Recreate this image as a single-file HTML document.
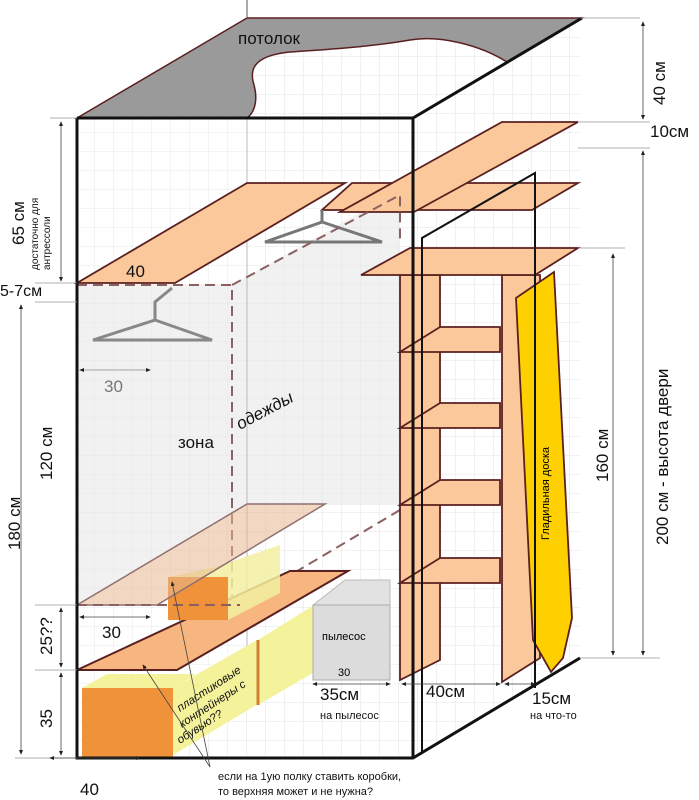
<!DOCTYPE html>
<html><head><meta charset="utf-8"><style>
html,body{margin:0;padding:0;background:#fff}
svg{display:block}
text{font-family:"Liberation Sans",sans-serif}
</style></head><body>
<svg width="699" height="800" viewBox="0 0 699 800" xmlns="http://www.w3.org/2000/svg">
<defs>
<pattern id="g" width="19" height="19" patternUnits="userSpaceOnUse">
<path d="M19 0V19M0 19H19" stroke="#dcdcdc" stroke-width="0.8" fill="none"/>
</pattern>
<marker id="a" markerWidth="6" markerHeight="6" refX="5" refY="3" orient="auto-start-reverse"><path d="M0,0.5L6,3L0,5.5z" fill="#222"/></marker>
</defs>
<!-- grids -->
<rect x="247" y="18" width="333" height="640" fill="url(#g)"/>
<polygon points="77,118 247,18 247,658 77,758" fill="url(#g)" opacity="0.8"/>
<polygon points="77,758 247,658 580,658 413,758" fill="url(#g)"/>
<!-- clothes zone fill -->
<polygon points="77,285 232,285 400,190 400,505 247,505 77,605" fill="#e8e8e8" opacity="0.6"/>
<!-- ceiling -->
<path d="M77,118 L247,18 L582,18 L507,62 C480,45 440,35 410,40 C370,47 320,50 290,52 C250,56 250,72 254,85 C258,100 255,112 247,118 Z" fill="#9a9a9a" stroke="#5a2020" stroke-width="1.5"/>
<line x1="247" y1="118" x2="247" y2="658" stroke="#bbb" stroke-width="1"/>
<line x1="247" y1="0" x2="247" y2="18" stroke="#555"/>
<!-- mezzanine shelves -->
<polygon points="77,283 175,283 345,183 247,183" fill="#fac89a" stroke="#5a2020" stroke-width="1.8"/>
<polygon points="352,183 578,183 532,210 322,210" fill="#fac89a" stroke="#5a2020" stroke-width="1.8"/>
<polygon points="502,122 578,122 414,212 340,212" fill="#fac89a" stroke="#5a2020" stroke-width="1.8"/>
<!-- hangers -->
<g stroke="#888" stroke-width="3" fill="none">
<path d="M172,288 L155,302 L155,320 L93,340 L212,340 L155,320"/>
<path d="M322,210 L322,222 L265,242 L382,242 L322,222" stroke="#777"/>
</g>
<!-- dashed zone -->
<g stroke="#8a6060" stroke-width="2" stroke-dasharray="10,6" fill="none">
<path d="M77,285 L232,285 L232,605 M232,285 L400,195 L400,240 M240,605 L400,510"/>
</g>
<!-- containers -->
<polygon points="82,688 173,688 196,674 107,674" fill="#f4f29a"/>
<polygon points="173,688 257,640 258,704 173,755" fill="#f4f29a"/>
<polygon points="258,640 335,592 335,660 258,705" fill="#f4f29a"/>
<rect x="82" y="688" width="91" height="70" fill="#f0923a"/>
<line x1="258" y1="640" x2="258" y2="705" stroke="#d08030" stroke-width="3"/>
<!-- shoe shelf -->
<polygon points="77,670 177,670 348,571 290,571" fill="#f7b680" stroke="#5a2020" stroke-width="2"/>
<!-- small box -->
<rect x="168" y="577" width="60" height="43" fill="#f0923a"/>
<polygon points="168,577 212,568 280,545 280,593 228,620 228,577" fill="#f2f0a0" opacity="0.85"/>
<!-- translucent shelf -->
<polygon points="77,605 157,605 325,504 247,504" fill="#e8b890" fill-opacity="0.55" stroke="#907070" stroke-width="1.5"/>
<line x1="77" y1="605" x2="240" y2="605" stroke="#8a6060" stroke-width="2" stroke-dasharray="10,6"/>
<!-- vacuum -->
<polygon points="313,605 345,580 390,580 390,680 313,680" fill="#e2e2e2" stroke="#bbb"/>
<rect x="313" y="605" width="77" height="75" fill="#dcdcdc" stroke="#aaa"/>
<text x="322" y="640" font-size="11">пылесос</text>
<text x="338" y="676" font-size="11">30</text>
<!-- right shelving -->
<g fill="#fac89a" stroke="#5a2020" stroke-width="1.8">
<polygon points="400,275 440,275 440,660 400,680"/>
<polygon points="502,275 540,275 540,658 502,682"/>
<polygon points="400,352 500,352 500,327 440,327"/>
<polygon points="400,428 500,428 500,403 440,403"/>
<polygon points="400,505 500,505 500,480 440,480"/>
<polygon points="400,583 500,583 500,558 440,558"/>
<polygon points="410,248 578,248 535,275 361,275"/>
</g>
<!-- ironing board -->
<polygon points="516,298 554,272 572,618 563,658 551,672 533,640" fill="#ffd000" stroke="#5a2020" stroke-width="1.8"/>
<text transform="translate(549,540) rotate(-90)" font-size="11">Гладильная доска</text>
<!-- box black lines -->
<g stroke="#111" stroke-width="3" fill="none">
<path d="M77,118 L413,118 L582,18 M77,118 L77,758 L413,758 L580,658 M413,118 L413,758"/>
</g>
<g stroke="#111" stroke-width="2" fill="none">
<path d="M422,752 L422,238 L535,173 L535,688"/>
</g>
<!-- dimensions -->
<g stroke="#999" stroke-width="0.8" fill="none">
<path d="M50,118H77 M35,283H77 M35,302H77 M35,605H77 M35,670H77 M15,758H77 M580,18H640 M578,122H650 M578,148H650 M578,248H625 M580,658H660"/>
</g>
<g stroke="#444" stroke-width="0.8" fill="none" marker-start="url(#a)" marker-end="url(#a)">
<path d="M61,122V281"/><path d="M21,305V754"/><path d="M61,608V667"/><path d="M61,673V755"/>
<path d="M643,22V119"/><path d="M643,151V655"/><path d="M613,254V655"/>
<path d="M80,370H150" stroke="#888"/><path d="M80,617H150"/><path d="M50,758H140"/>
<path d="M313,684H390"/><path d="M402,684H500"/><path d="M505,684H535"/>
</g>
<g font-size="17" fill="#111">
<text transform="translate(24,245) rotate(-90)">65 см</text>
<text transform="translate(38,270) rotate(-90)" font-size="10">достаточно для</text>
<text transform="translate(50,270) rotate(-90)" font-size="10">антрессоли</text>
<text x="0" y="296" font-size="16">5-7см</text>
<text transform="translate(20,550) rotate(-90)">180 см</text>
<text transform="translate(52,480) rotate(-90)">120 см</text>
<text transform="translate(52,655) rotate(-90)">25??</text>
<text transform="translate(52,728) rotate(-90)">35</text>
<text x="80" y="795">40</text>
<text x="102" y="638">30</text>
<text x="104" y="392" fill="#777">30</text>
<text x="126" y="277">40</text>
<text x="238" y="44">потолок</text>
<text x="178" y="448">зона</text>
<text transform="translate(240,430) rotate(-28)" font-style="italic">одежды</text>
<text transform="translate(665,105) rotate(-90)">40 см</text>
<text x="650" y="137">10см</text>
<text transform="translate(668,545) rotate(-90)">200 см - высота двери</text>
<text transform="translate(608,482) rotate(-90)">160 см</text>
<text x="320" y="700">35см</text>
<text x="426" y="697">40см</text>
<text x="532" y="704">15см</text>
</g>
<g font-size="11.5" fill="#111" font-style="italic">
<text transform="translate(180,712) rotate(-33)">пластиковые</text>
<text transform="translate(182,728) rotate(-33)">контейнеры с</text>
<text transform="translate(180,744) rotate(-33)">обувью??</text>
</g>
<g font-size="11" fill="#111">
<text x="320" y="719">на пылесос</text>
<text x="530" y="719">на что-то</text>
<text x="218" y="780">если на 1ую полку ставить коробки,</text>
<text x="218" y="795">то верхняя может и не нужна?</text>
</g>
<g stroke="#444" stroke-width="0.8" marker-end="url(#a)">
<line x1="210" y1="767" x2="172" y2="582"/>
<line x1="210" y1="767" x2="143" y2="665"/>
</g>
</svg>
</body></html>
